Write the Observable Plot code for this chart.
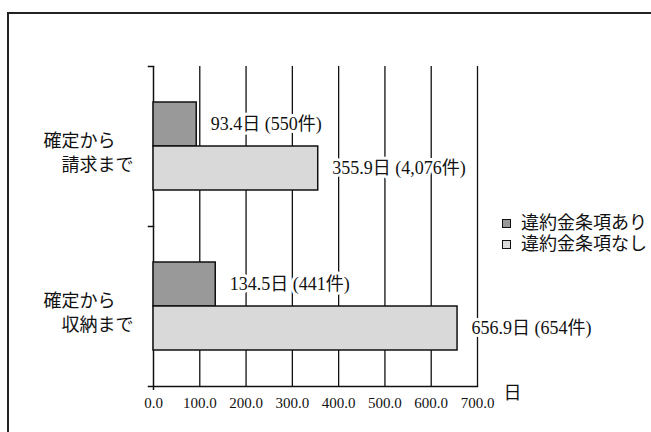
<!DOCTYPE html>
<html>
<head>
<meta charset="utf-8">
<script src="https://cdn.jsdelivr.net/npm/d3@7"></script>
<script src="https://cdn.jsdelivr.net/npm/@observablehq/plot@0.6"></script>
<style>
  html, body { margin: 0; padding: 0; background: #fff; }
  #wrap { position: relative; width: 651px; height: 432px; overflow: hidden; font-family: "Liberation Serif", "Noto Sans CJK JP", serif; }
  #border { position: absolute; left: 7px; top: 12px; width: 800px; height: 600px; border-top: 2px solid #222; border-left: 2px solid #222; }
  #chart { position: absolute; left: 0; top: 0; }
  #legend { position: absolute; left: 502px; top: 213px; font-size: 18px; line-height: 21px; color: #111; }
  #legend .item { display: flex; align-items: center; white-space: nowrap; }
  #legend .sw { width: 7px; height: 7px; border: 1px solid #111; margin-right: 10px; }
</style>
</head>
<body>
<div id="wrap">
  <div id="border"></div>
  <div id="chart"></div>
  <div id="legend"></div>
</div>
<script>
const categories = ["確定から請求まで", "確定から収納まで"];
const categoryLines = [["確定から\u3000", "請求まで"], ["確定から\u3000", "収納まで"]];
const series = ["違約金条項あり", "違約金条項なし"];
const colors = ["#999999", "#d9d9d9"];
const daysAri = [93.4, 134.5];
const daysNashi = [355.9, 656.9];
const countAri = [550, 441];
const countNashi = [4076, 654];
const xTicks = [0, 100, 200, 300, 400, 500, 600, 700];
const unitLabel = "日";

const data = [];
categories.forEach((c, i) => {
  data.push({cat: c, series: series[0], value: daysAri[i], count: countAri[i]});
  data.push({cat: c, series: series[1], value: daysNashi[i], count: countNashi[i]});
});
const fmtCount = d3.format(",");
const font = "'Liberation Serif', 'Noto Sans CJK JP', serif";

const chart = Plot.plot({
  width: 651,
  height: 432,
  marginLeft: 153,
  marginRight: 174,
  marginTop: 66,
  marginBottom: 46,
  style: {fontFamily: font, color: "#111", background: "transparent"},
  x: {domain: [0, 700], axis: null},
  fy: {domain: categories, padding: 0, axis: null},
  y: {domain: series, paddingInner: 0, paddingOuter: 0.778, axis: null},
  color: {domain: series, range: colors},
  marks: [
    Plot.gridX({ticks: xTicks.slice(1), stroke: "#111", strokeOpacity: 1, strokeWidth: 1.3}),
    Plot.ruleX([0], {stroke: "#111", strokeWidth: 1.5}),
    Plot.frame({anchor: "top", stroke: "#111", strokeWidth: 1.5, insetLeft: -5, insetRight: 324}),
    Plot.frame({anchor: "bottom", stroke: "#111", strokeWidth: 1.5, insetLeft: -5, facetAnchor: "bottom"}),
    Plot.barX(data, {fy: "cat", y: "series", x: "value", fill: "series", stroke: "#111", strokeWidth: 1.5}),
    Plot.text(data, {
      fy: "cat", y: "series", x: "value",
      text: d => `${d.value.toFixed(1)}日 (${fmtCount(d.count)}件)`,
      textAnchor: "start", dx: 14, fontSize: 18, fill: "#111",
      stroke: "white", strokeWidth: 6
    }),
    Plot.text(categories, {
      fy: d => d, frameAnchor: "left", dx: -20, dy: 5, textAnchor: "end",
      text: d => categoryLines[categories.indexOf(d)].join("\n"),
      lineHeight: 1.35, fontSize: 18, fill: "#111"
    }),
    Plot.text(xTicks, {x: d => d, frameAnchor: "bottom", dy: 21, text: d => d.toFixed(1), fontSize: 15, fill: "#111", facetAnchor: "bottom"}),
    Plot.axisX({ticks: [0], tickFormat: () => "", tickSize: 4, strokeWidth: 1.5, label: null}),
    Plot.text([unitLabel], {frameAnchor: "bottom-right", dx: 26, dy: 12, textAnchor: "start", fontSize: 18, fill: "#111", facetAnchor: "bottom"})
  ]
});
document.getElementById("chart").appendChild(chart);

const legend = document.getElementById("legend");
series.forEach((s, i) => {
  const item = document.createElement("div");
  item.className = "item";
  const sw = document.createElement("span");
  sw.className = "sw";
  sw.style.background = colors[i];
  const t = document.createElement("span");
  t.textContent = s;
  item.appendChild(sw);
  item.appendChild(t);
  legend.appendChild(item);
});
</script>
</body>
</html>
